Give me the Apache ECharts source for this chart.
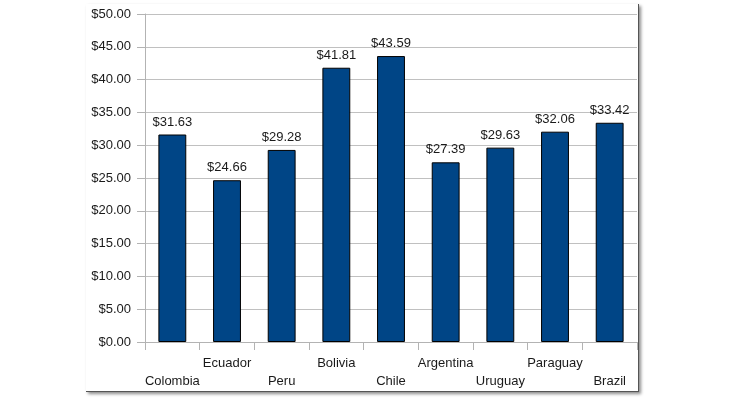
<!DOCTYPE html>
<html>
<head>
<meta charset="utf-8">
<script src="https://cdn.jsdelivr.net/npm/echarts@6.0.0/dist/echarts.min.js"></script>
<style>
  html, body { margin: 0; padding: 0; background: #fff; }
  #frame {
    position: absolute; left: 86px; top: 4px; width: 552px; height: 387px;
    border-right: 1px solid #555; border-bottom: 1px solid #555;
    box-shadow: 2px 2px 3px rgba(0,0,0,0.45);
  }
  #chart { position: absolute; left: 0; top: 0; width: 730px; height: 400px; }
</style>
</head>
<body>
<div id="frame"></div>
<div id="chart"></div>
<script>
// countries and prices
var countries = ['Colombia', 'Ecuador', 'Peru', 'Bolivia', 'Chile', 'Argentina', 'Uruguay', 'Paraguay', 'Brazil'];
var prices = [31.63, 24.66, 29.28, 41.81, 43.59, 27.39, 29.63, 32.06, 33.42];

var myChart = echarts.init(document.getElementById('chart'));
var font = 'Liberation Sans, Arial, sans-serif';
var option = {
  animation: false,
  grid: { left: 145, right: 93, top: 14, bottom: 58 },
  xAxis: {
    type: 'category',
    data: countries,
    axisLine: { lineStyle: { color: '#b3b3b3', width: 1 } },
    axisTick: { show: true, length: 8, lineStyle: { color: '#b3b3b3' } },
    axisLabel: {
      interval: 0,
      margin: 12,
      color: '#1a1a1a',
      fontFamily: font,
      fontSize: 13,
      lineHeight: 18,
      formatter: function (v, i) { return i % 2 ? v : '\n' + v; }
    }
  },
  yAxis: {
    type: 'value',
    min: 0,
    max: 50,
    interval: 5,
    axisLine: { show: true, lineStyle: { color: '#b3b3b3' } },
    axisTick: { show: true, length: 8, lineStyle: { color: '#b3b3b3' } },
    splitLine: { lineStyle: { color: '#c0c0c0' } },
    axisLabel: {
      margin: 14,
      color: '#1a1a1a',
      fontFamily: font,
      fontSize: 13,
      formatter: function (v) { return '$' + v.toFixed(2); }
    }
  },
  series: [{
    type: 'bar',
    data: prices,
    barWidth: '51%',
    itemStyle: { color: '#004586', borderColor: '#000', borderWidth: 1 },
    label: {
      show: true,
      position: 'top',
      distance: 6,
      color: '#1a1a1a',
      fontFamily: font,
      fontSize: 13,
      formatter: function (p) { return '$' + p.value.toFixed(2); }
    }
  }]
};
myChart.setOption(option);
</script>
</body>
</html>
